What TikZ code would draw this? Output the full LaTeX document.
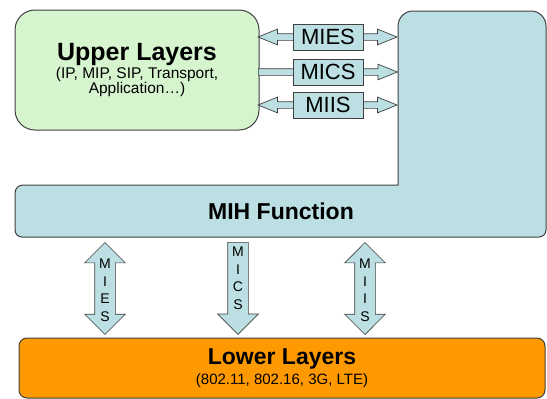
\documentclass[tikz,border=0pt]{standalone}
\usepackage{fontspec}
\setmainfont{Liberation Sans}
\usetikzlibrary{shapes.arrows}
\definecolor{upperfill}{RGB}{214,245,207}
\definecolor{mihfill}{RGB}{187,223,226}
\definecolor{lowerfill}{RGB}{255,153,0}
\definecolor{edge}{RGB}{64,64,64}
\begin{document}
\begin{tikzpicture}[x=1pt,y=-1pt,
  layer/.style={draw=edge,line width=1pt,rounded corners=8pt,align=center,inner sep=0pt},
  fat/.style={draw=edge,fill=mihfill,line width=.7pt,inner xsep=0pt},
  hfat/.style={fat,minimum height=139pt,inner ysep=3pt},
  vfat/.style={fat,minimum height=92pt,inner ysep=10pt},
  hlbl/.style={draw=edge,fill=mihfill,line width=.7pt,minimum width=70pt,minimum height=26pt,inner sep=0pt,font=\fontsize{22}{24}\selectfont},
  vlbl/.style={align=center,inner sep=0pt,font=\fontsize{14}{17.5}\selectfont}]
\useasboundingbox (0,0) rectangle (547,399);
% MIH function as one L shaped outline
\draw[fill=mihfill,draw=edge,line width=1pt] (15,211) [rounded corners=8pt] -- (15,185) -- (300,185) [sharp corners] -- (398,185) -- (398,100) [rounded corners=15pt] -- (398,11) -- (546,11) -- (546,120) [rounded corners=7pt] -- (546,237) -- (15,237) -- cycle;
\node[font=\fontsize{23}{26}\selectfont\bfseries] (mih) at (281,211) {MIH Function};
\node[layer,fill=upperfill,rounded corners=20pt,minimum width=244pt,minimum height=120pt] (upper) at (137,70)
  {{\fontsize{25}{27}\selectfont\bfseries Upper Layers}\\[1pt]
   {\fontsize{15.5}{16}\selectfont (IP, MIP, SIP, Transport,}\\
   {\fontsize{15.5}{16}\selectfont Application…)}};
\node[layer,fill=lowerfill,minimum width=526pt,minimum height=60pt] (lower) at (282,368)
  {{\fontsize{23}{26}\selectfont\bfseries Lower Layers}\\[3pt]
   {\fontsize{15}{17}\selectfont (802.11, 802.16, 3G, LTE)}};
% upper layers <-> MIH
\foreach \y/\lbl in {37/MIES,105/MIIS}{
  \node[hfat,double arrow,double arrow head extend=4.5pt,double arrow tip angle=44] (h\lbl) at (327.5,\y) {};
  \node[hlbl] (l\lbl) at (328,\y) {\lbl};
}
\node[hfat,single arrow,single arrow head extend=4.5pt,single arrow tip angle=44,anchor=tail] (hMICS) at (258,72) {};
\node[hlbl] (lMICS) at (328,72) {MICS};
% MIH <-> lower layers
\foreach \x/\lbl in {105/MIES,365/MIIS}
  \node[vfat,double arrow,double arrow head extend=10pt,double arrow tip angle=90,rotate=90] (v\lbl) at (\x,288.5) {};
\node[vfat,single arrow,single arrow head extend=10pt,single arrow tip angle=90,rotate=-90,anchor=tail] (vMICS) at (238,242) {};
\foreach \x/\a/\b/\c/\d in {105/M/I/E/S,238/M/I/C/S,365/M/I/I/S}
  \node[vlbl] at (\x,\ifnum\x=238 278\else 290\fi) {\a\\\b\\\c\\\d};
\end{tikzpicture}
\end{document}
